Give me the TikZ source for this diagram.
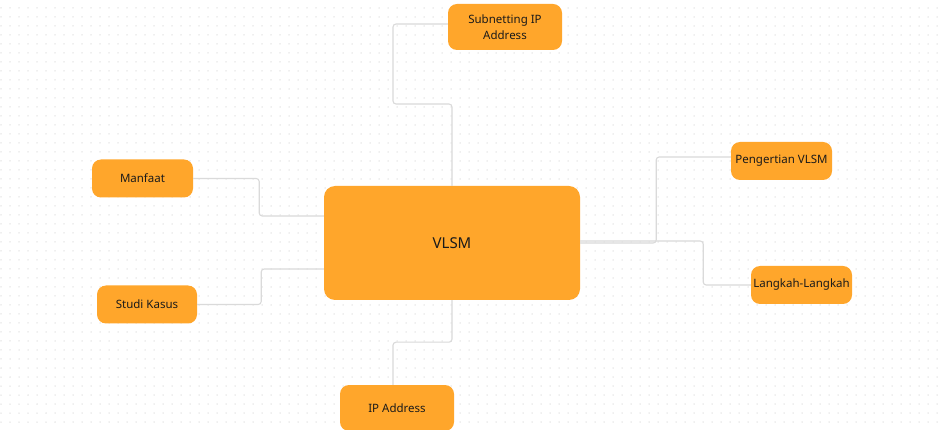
\documentclass[tikz,border=0pt]{standalone}
\usepackage{fontspec}
\setmainfont{Noto Sans}
\usetikzlibrary{positioning}
\definecolor{boxorange}{HTML}{FFA62B}
\definecolor{linkgray}{HTML}{DADADA}
\definecolor{dotgray}{HTML}{DFDFDF}
\definecolor{textdark}{HTML}{1A1A1A}
\tikzset{
  topic/.style={fill=boxorange, rounded corners=9pt, text=textdark, align=center,
    font=\fontsize{11.5}{16}\selectfont, minimum width=101pt, minimum height=38pt, inner sep=0pt},
  link/.style={draw=linkgray, line width=1.1pt, rounded corners=3pt}
}

\begin{document}
\begin{tikzpicture}[x=1pt,y=-1pt]
                \useasboundingbox (0,0) rectangle (940,430);
                \clip (0,0) rectangle (940,430);
                \fill[white] (0,0) rectangle (940,430);
                \foreach \x in {1,10,...,937}
                    \foreach \y in {8,17,...,428}
                        \fill[dotgray] (\x,\y) circle (0.75);
                \node[topic, minimum width=256pt, minimum height=114pt, rounded corners=11pt,
                    font=\fontsize{15}{18}\selectfont] (vlsm) at (452,243) {VLSM};
                \node[topic, minimum width=114pt, minimum height=46pt] (subnet) at (505,27) {Subnetting IP\\Address};
                \node[topic] (pengertian) at (781.5,161) {Pengertian VLSM};
                \node[topic] (langkah) at (801.5,285) {Langkah-Langkah};
                \node[topic] (manfaat) at (142.5,178.5) {Manfaat};
                \node[topic, minimum width=100pt] (studi) at (147,304.5) {Studi Kasus};
                \node[topic, minimum width=114pt, minimum height=46pt] (ipaddr) at (397,408) {IP Address};
                \draw[link] ([yshift=3pt]subnet.west) -| (393,104) -| (vlsm.north);
                \draw[link] (vlsm.east) -- ++(76,0) |- ([yshift=4pt]pengertian.west);
                \draw[link] ([yshift=2pt]vlsm.east) -- ++(123,0) |- (langkah.west);
                \draw[link] (manfaat.east) -- ++(66,0) |- ([yshift=27pt]vlsm.west);
                \draw[link] (studi.east) -- ++(64,0) |- ([yshift=-26pt]vlsm.west);
                \draw[link] (vlsm.south) -- ++(0,42) -| ([xshift=-4pt]ipaddr.north);
            \end{tikzpicture}
\end{document}
